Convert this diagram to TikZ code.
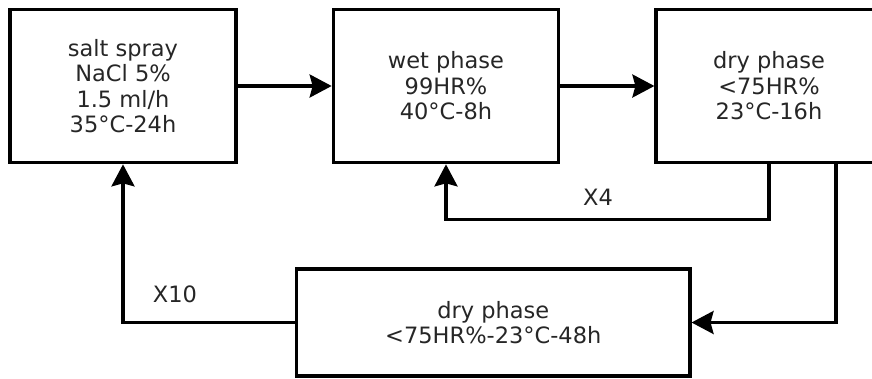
\documentclass[tikz,border=0pt]{standalone}
\usepackage{fontspec}
\setmainfont{DejaVu Sans}
\usetikzlibrary{arrows.meta,calc}
\begin{document}
\begin{tikzpicture}[x=1pt,y=-1pt,
  box/.style={draw=black, line width=3.2pt, align=center, inner sep=0pt,
    font=\fontsize{22.5}{25.5}\selectfont, text=black!85},
  conn/.style={line width=3.2pt, line join=miter, -{Stealth[length=22pt,width=23pt,inset=3pt]}},
  lbl/.style={font=\fontsize{22.5}{25.5}\selectfont, text=black!85, inner sep=0pt}]
\useasboundingbox (0,0) rectangle (872,378);
\clip (0,0) rectangle (872,378);
\node[box, minimum width=226pt, minimum height=153.5pt] (b1) at (123,86) {salt spray\\NaCl 5\%\\1.5 ml/h\\35°C-24h};
\node[box, minimum width=225.5pt, minimum height=153.5pt] (b2) at (446,86) {wet phase\\99HR\%\\40°C-8h};
\node[box, minimum width=226pt, minimum height=153.5pt] (b3) at (769,86) {dry phase\\<75HR\%\\23°C-16h};
\node[box, minimum width=393.3pt, minimum height=107pt] (b4) at (493.3,322.5) {dry phase\\<75HR\%-23°C-48h};
\draw[conn] (b1.east) -- (b2.west);
\draw[conn] (b2.east) -- (b3.west);
\coordinate (c1) at (769,219.3);
\coordinate (c2) at (836,162.75);
\draw[conn] (b3.south) -- (c1) -| (b2.south);
\draw[conn] (c2) |- (b4.east);
\draw[conn] (b4.west) -| (b1.south);
\node[lbl] (x4) at (598,197) {X4};
\node[lbl] (x10) at (175,294) {X10};
\end{tikzpicture}
\end{document}
